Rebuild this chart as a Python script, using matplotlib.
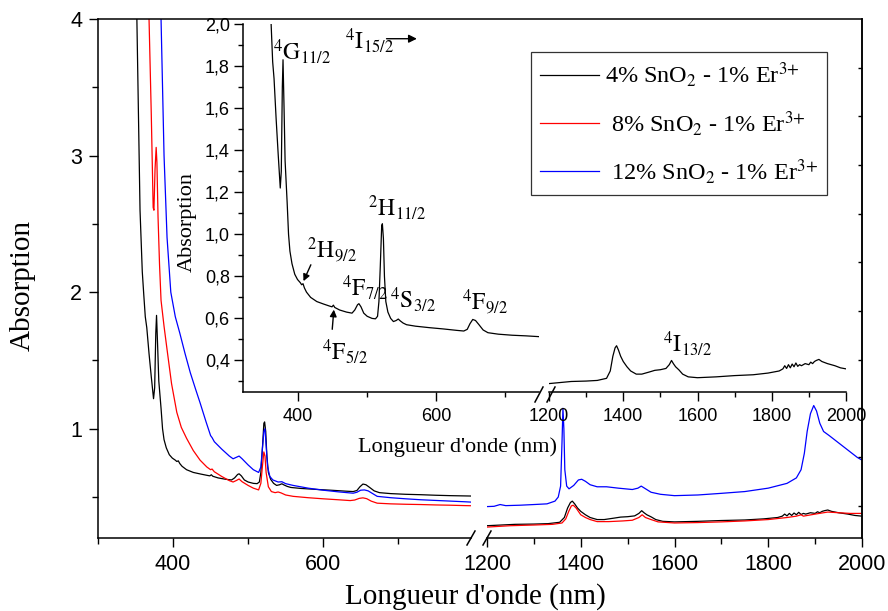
import numpy as np
import matplotlib.pyplot as plt
from matplotlib.lines import Line2D
from matplotlib.ticker import FuncFormatter

plt.rcParams['font.family'] = ['Liberation Serif', 'DejaVu Serif']
plt.rcParams['mathtext.fontset'] = 'stix'

# -------------------------------------------------
# Data (wavelength in nm, absorbance)
# -------------------------------------------------
# 4% SnO2 - 1% Er3+ (also used for the inset)
wl_k_vis = [345, 350, 353, 356, 359, 361, 363, 365, 368, 371, 374, 375.5, 377, 378, 379.5,
            381, 384, 386, 388, 391, 395, 399, 403, 405, 407, 409, 412, 418, 427, 437,
            446, 449, 451, 453, 460, 470, 478, 482, 486, 488, 491, 495, 500, 507, 512,
            515, 517, 519, 521, 522, 523.5, 525, 527, 530, 534, 538, 542, 545, 548, 552,
            557, 570, 590, 610, 630, 640, 645, 649, 653, 657, 662, 668, 675, 690, 710,
            730, 750, 770, 790, 800]
ab_k_vis = [6.0, 4.6, 3.6, 2.6, 2.15, 1.98, 1.82, 1.74, 1.55, 1.38, 1.22, 1.30, 1.70, 1.83, 1.60,
            1.35, 1.15, 1.00, 0.92, 0.86, 0.81, 0.785, 0.77, 0.76, 0.765, 0.745, 0.725, 0.70, 0.68, 0.668,
            0.658, 0.655, 0.663, 0.652, 0.64, 0.63, 0.625, 0.64, 0.665, 0.67, 0.655, 0.625, 0.61, 0.60, 0.598,
            0.61, 0.68, 0.85, 1.04, 1.05, 0.98, 0.80, 0.68, 0.63, 0.60, 0.585, 0.59, 0.597, 0.588, 0.578,
            0.57, 0.563, 0.556, 0.55, 0.543, 0.54, 0.548, 0.575, 0.595, 0.59, 0.57, 0.545, 0.532, 0.525, 0.52,
            0.517, 0.513, 0.51, 0.508, 0.507]
wl_k_ir = [1200, 1230, 1260, 1300, 1330, 1355, 1365, 1372, 1378, 1382, 1387, 1393, 1400, 1410,
           1420, 1435, 1450, 1470, 1485, 1500, 1515, 1524, 1530, 1535, 1541, 1550, 1560, 1575,
           1600, 1650, 1700, 1750, 1790, 1820, 1830, 1835, 1840, 1845, 1850, 1855, 1860, 1865,
           1870, 1875, 1880, 1890, 1900, 1905, 1910, 1915, 1920, 1927, 1935, 1950, 1970, 1985, 2000]
ab_k_ir = [0.29, 0.295, 0.30, 0.302, 0.305, 0.315, 0.35, 0.42, 0.46, 0.47, 0.45, 0.42, 0.395, 0.37,
           0.35, 0.335, 0.335, 0.345, 0.353, 0.356, 0.362, 0.38, 0.40, 0.385, 0.37, 0.355, 0.335, 0.322,
           0.318, 0.322, 0.328, 0.332, 0.34, 0.35, 0.36, 0.375, 0.362, 0.38, 0.365, 0.383, 0.37, 0.388,
           0.372, 0.38, 0.375, 0.385, 0.38, 0.392, 0.385, 0.395, 0.40, 0.405, 0.395, 0.385, 0.375, 0.365, 0.36]

# 8% SnO2 - 1% Er3+
wl_r_vis = [366, 368, 371, 373.5, 374.5, 376, 377.5, 378.5, 380, 382, 384, 388, 392, 398, 405,
            411, 418, 427, 436, 445, 450, 452, 455, 465, 475, 480, 484, 488, 492, 500, 507,
            514, 517, 519, 521, 522.5, 524, 527, 531, 536, 540, 544, 550, 560, 580, 600, 620,
            636, 642, 648, 653, 658, 664, 672, 690, 710, 730, 750, 770, 790, 800]
ab_r_vis = [4.4, 4.0, 3.3, 2.62, 2.6, 2.9, 3.06, 2.95, 2.55, 2.2, 1.94, 1.75, 1.58, 1.33, 1.12,
            1.01, 0.93, 0.84, 0.77, 0.72, 0.70, 0.705, 0.685, 0.65, 0.62, 0.61, 0.62, 0.632, 0.612, 0.585, 0.565,
            0.552, 0.60, 0.72, 0.83, 0.80, 0.68, 0.575, 0.54, 0.532, 0.537, 0.53, 0.515, 0.505, 0.495, 0.487, 0.48,
            0.474, 0.478, 0.49, 0.494, 0.488, 0.47, 0.455, 0.45, 0.447, 0.445, 0.442, 0.44, 0.437, 0.436]
wl_r_ir = [1200, 1250, 1300, 1340, 1360, 1368, 1375, 1380, 1384, 1390, 1400, 1410, 1420, 1435,
           1460, 1490, 1510, 1524, 1531, 1538, 1550, 1565, 1600, 1650, 1700, 1750, 1800, 1840,
           1860, 1870, 1875, 1900, 1927, 1950, 1975, 2000]
ab_r_ir = [0.28, 0.29, 0.295, 0.30, 0.31, 0.34, 0.40, 0.435, 0.44, 0.42, 0.37, 0.35, 0.335, 0.32,
           0.32, 0.325, 0.33, 0.35, 0.37, 0.35, 0.335, 0.318, 0.31, 0.313, 0.318, 0.325, 0.335, 0.35,
           0.36, 0.37, 0.36, 0.375, 0.39, 0.385, 0.38, 0.38]

# 12% SnO2 - 1% Er3+
wl_b_vis = [380, 384, 388, 392, 397, 403, 409, 416, 423, 430, 436, 444, 450, 452, 455, 465,
            475, 480, 484, 488, 492, 500, 507, 514, 517, 519, 521, 522.5, 524, 526, 529, 533,
            540, 545, 550, 560, 580, 600, 620, 640, 645, 650, 655, 660, 666, 672, 690, 710,
            730, 750, 770, 790, 800]
ab_b_vis = [5.0, 4.0, 3.0, 2.4, 2.0, 1.82, 1.70, 1.55, 1.41, 1.29, 1.19, 1.05, 0.95, 0.935, 0.905, 0.85,
            0.80, 0.78, 0.79, 0.80, 0.78, 0.735, 0.70, 0.68, 0.72, 0.85, 0.98, 1.0, 0.88, 0.72, 0.65, 0.625,
            0.61, 0.612, 0.598, 0.585, 0.565, 0.55, 0.538, 0.528, 0.535, 0.55, 0.552, 0.545, 0.525, 0.505, 0.495, 0.487,
            0.48, 0.475, 0.47, 0.465, 0.462]
wl_b_ir = [1200, 1215, 1228, 1240, 1270, 1300, 1328, 1345, 1352, 1357, 1360, 1362, 1364, 1366,
           1370, 1375, 1385, 1395, 1402, 1410, 1420, 1435, 1455, 1480, 1510, 1522, 1529, 1536,
           1550, 1570, 1600, 1650, 1700, 1750, 1800, 1840, 1860, 1870, 1877, 1883, 1890, 1897,
           1903, 1910, 1918, 1930, 1945, 1960, 1975, 1990, 2000]
ab_b_ir = [0.43, 0.432, 0.445, 0.437, 0.44, 0.445, 0.45, 0.47, 0.50, 0.58, 0.90, 1.15, 1.0, 0.70,
           0.58, 0.56, 0.585, 0.625, 0.63, 0.615, 0.59, 0.575, 0.575, 0.565, 0.555, 0.565, 0.58, 0.565,
           0.535, 0.52, 0.51, 0.515, 0.527, 0.54, 0.565, 0.60, 0.64, 0.70, 0.82, 0.98, 1.11, 1.17,
           1.13, 1.04, 0.98, 0.95, 0.91, 0.87, 0.83, 0.79, 0.77]

labels = ["4% SnO$_2$ - 1% Er$^{3{+}}$", " 8% SnO$_2$ - 1% Er$^{3{+}}$", " 12% SnO$_2$ - 1% Er$^{3{+}}$"]
colors = ["black", "red", "blue"]

# -------------------------------------------------
# Figure layout (pixel boxes)
# -------------------------------------------------
W, H = 888, 611
fig = plt.figure(figsize=(W / 100, H / 100), dpi=100)


def box(x0, y0, x1, y1):
    return [x0 / W, 1 - y1 / H, (x1 - x0) / W, (y1 - y0) / H]


def fpt(x, y):
    return x / W, 1 - y / H


sans = 'Liberation Sans'
lw = 0.9

axL = fig.add_axes(box(98, 19, 471, 538))
axR = fig.add_axes(box(487, 19, 862, 538))

series_vis = [(wl_k_vis, ab_k_vis), (wl_r_vis, ab_r_vis), (wl_b_vis, ab_b_vis)]
series_ir = [(wl_k_ir, ab_k_ir), (wl_r_ir, ab_r_ir), (wl_b_ir, ab_b_ir)]

handles = []
for (x, y), c in zip(series_vis, colors):
    h, = axL.plot(x, y, color=c, lw=lw)
    handles.append(h)
for (x, y), c in zip(series_ir, colors):
    axR.plot(x, y, color=c, lw=lw)

for ax in (axL, axR):
    ax.set_ylim(0.2, 4)
    ax.spines['top'].set_visible(False)
    ax.tick_params(axis='both', which='major', direction='out', length=6.5, width=1,
                   labelsize=15.5, labelfontfamily=sans, pad=5)
    ax.tick_params(axis='both', which='minor', direction='out', length=4.5, width=1)
    for s in ax.spines.values():
        s.set_linewidth(1.1)

axL.set_xlim(300, 797)
axL.set_xticks([400, 600])
axL.set_xticks([300, 500, 700], minor=True)
axL.set_yticks([1, 2, 3, 4])
axL.set_yticks([0.5, 1.5, 2.5, 3.5], minor=True)
axL.spines['right'].set_visible(False)

axR.set_xlim(1200, 2000)
axR.set_xticks([1200, 1400, 1600, 1800, 2000])
axR.set_xticks([1300, 1500, 1700, 1900], minor=True)
axR.spines['left'].set_visible(False)
axR.set_yticks([])
axR.patch.set_alpha(0)

# extra ticks on the right side of the main frame
axR2 = axR.twinx()
axR2.set_ylim(-0.66, 10)
axR2.set_yticks(range(10))
axR2.tick_params(axis='y', direction='in', length=3, width=1, labelright=False)
for s in ('top', 'left', 'bottom'):
    axR2.spines[s].set_visible(False)
axR2.spines['right'].set_linewidth(1.1)

# top frame line and axis break marks
x0, y0 = fpt(98, 19)
x1, _ = fpt(862, 19)
fig.add_artist(Line2D([x0, x1], [y0, y0], color='black', lw=1.1))
for cx in (471, 487):
    a = fpt(cx - 4, 545)
    b = fpt(cx + 4, 531)
    fig.add_artist(Line2D([a[0], b[0]], [a[1], b[1]], color='black', lw=1.1))

fig.text(*fpt(23, 285), "Absorption", rotation=90, ha='center', va='center', fontsize=21)
fig.text(*fpt(475, 597), "Longueur d'onde (nm)", ha='center', va='center', fontsize=21)

# -------------------------------------------------
# Inset (4% SnO2 sample)
# -------------------------------------------------
inL = fig.add_axes(box(243, 24, 539, 392))
inR = fig.add_axes(box(549, 24, 846, 392))
inL.plot(wl_k_vis, ab_k_vis, color='black', lw=lw)
inR.plot(wl_k_ir, ab_k_ir, color='black', lw=lw)

for ax in (inL, inR):
    ax.set_ylim(0.25, 2.0)
    ax.set_facecolor('none')
    ax.spines['top'].set_visible(False)
    ax.spines['right'].set_visible(False)
    ax.tick_params(axis='both', which='major', direction='out', length=6.5, width=1,
                   labelsize=13, labelfontfamily=sans, pad=3)
    ax.tick_params(axis='both', which='minor', direction='out', length=3.5, width=1)
    ax.tick_params(axis='x', which='major', pad=5)
    for s in ax.spines.values():
        s.set_linewidth(1.1)

inL.set_xlim(320, 749)
inL.set_xticks([400, 600])
inL.set_xticks([500, 700], minor=True)
inL.set_yticks(np.arange(0.4, 2.01, 0.2))
inL.set_yticks(np.arange(0.3, 2.0, 0.2), minor=True)
inL.yaxis.set_major_formatter(FuncFormatter(lambda v, p: f"{v:.1f}".replace('.', ',')))

inR.set_xlim(1200, 2000)
inR.set_xticks([1200, 1400, 1600, 1800, 2000])
inR.set_xticks([1300, 1500, 1700, 1900], minor=True)
inR.spines['left'].set_visible(False)
inR.set_yticks([])

for cx in (539, 551):
    a = fpt(cx - 4, 402)
    b = fpt(cx + 4, 387)
    fig.add_artist(Line2D([a[0], b[0]], [a[1], b[1]], color='black', lw=1.1))

fig.text(*fpt(187, 222), "Absorption", rotation=90, ha='center', va='center', fontsize=16)
fig.text(*fpt(458, 447), "Longueur d'onde (nm)", ha='center', va='center', fontsize=16)

# transition labels
fs = 17
inL.text(363.5, 1.83, r"$^{4}\mathrm{G}_{11/2}$", fontsize=fs)
inL.text(468, 1.88, r"$^{4}\mathrm{I}_{15/2}$", fontsize=fs)
inL.annotate("", xy=(576, 1.93), xytext=(524, 1.93),
             arrowprops=dict(arrowstyle='-|>', color='black', lw=1, mutation_scale=12))
inL.text(501, 1.086, r"$^{2}\mathrm{H}_{11/2}$", fontsize=fs)
inL.text(413, 0.89, r"$^{2}\mathrm{H}_{9/2}$", fontsize=fs)
inL.annotate("", xy=(406, 0.765), xytext=(420, 0.867),
             arrowprops=dict(arrowstyle='-|>', color='black', lw=1, mutation_scale=10))
inL.text(463.5, 0.705, r"$^{4}\mathrm{F}_{7/2}$", fontsize=fs)
inL.text(533, 0.652, r"$^{4}\mathrm{S}_{3/2}$", fontsize=fs)
inL.text(637, 0.643, r"$^{4}\mathrm{F}_{9/2}$", fontsize=fs)
inL.text(434.5, 0.405, r"$^{4}\mathrm{F}_{5/2}$", fontsize=fs)
inL.annotate("", xy=(452, 0.655), xytext=(449, 0.535),
             arrowprops=dict(arrowstyle='-|>', color='black', lw=1, mutation_scale=10))
inR.text(1507, 0.443, r"$^{4}\mathrm{I}_{13/2}$", fontsize=fs)

# -------------------------------------------------
# Legend
# -------------------------------------------------
leg = fig.legend(handles, labels, loc='upper left', bbox_to_anchor=fpt(531, 52),
                 fontsize=17.5, frameon=True, fancybox=False, edgecolor='black',
                 handlelength=2.45, handletextpad=0.25, labelspacing=0.8,
                 borderpad=0.35, borderaxespad=0)
leg.get_frame().set_linewidth(0.9)

fig.savefig("out.png", dpi=100)
